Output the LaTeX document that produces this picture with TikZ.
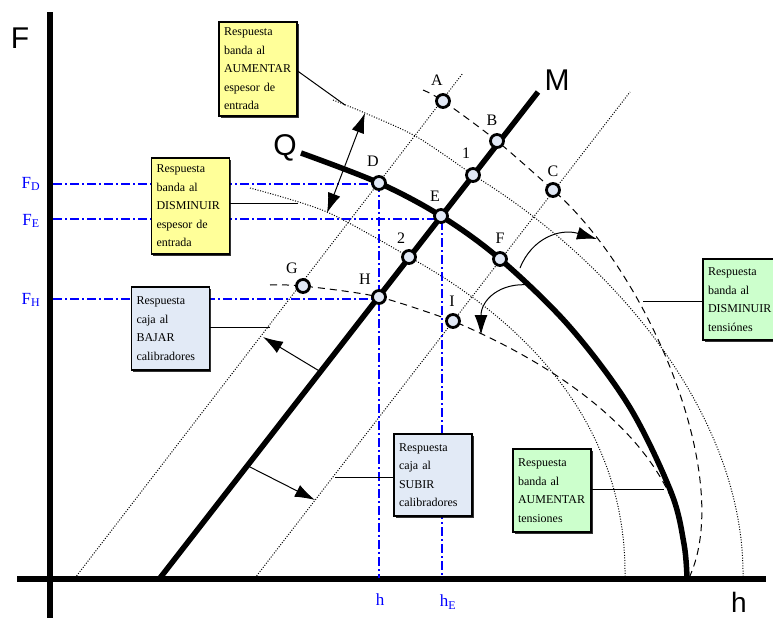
\documentclass[tikz,border=0pt]{standalone}
\usepackage{fontspec}
\setmainfont{Liberation Serif}
\setsansfont{Liberation Sans}
\usetikzlibrary{arrows.meta,shadows}
\definecolor{ptfill}{RGB}{225,232,245}
\definecolor{yel}{RGB}{255,255,153}
\definecolor{grn}{RGB}{204,255,204}
\definecolor{lbl}{RGB}{226,234,246}
\definecolor{dblue}{RGB}{0,0,255}
\begin{document}
\begin{tikzpicture}[x=1pt,y=-1pt,
  pt/.style={circle,draw=black,line width=2.8pt,fill=ptfill,minimum size=13pt,inner sep=0pt},
  plab/.style={font=\fontsize{16}{16}\selectfont},
  big/.style={font=\sffamily\fontsize{30}{30}\selectfont},
  axlab/.style={text=dblue,font=\fontsize{17}{17}\selectfont},
  box/.style={draw=black,line width=1.2pt,align=left,text width=68pt,inner xsep=5pt,inner ysep=0pt,font=\fontsize{12}{18.5}\selectfont,
    drop shadow={shadow xshift=1.5pt,shadow yshift=-1.5pt,opacity=0.8,fill=black}},
  bl/.style={draw=dblue,line width=1.3pt,dash pattern=on 9pt off 3pt on 2pt off 3pt},
  dl/.style={dash pattern=on 7pt off 5pt,line width=1pt},
  dt/.style={dash pattern=on 1pt off 1.6pt,line width=1pt},
  heavy/.style={line width=5.5pt},
  axis/.style={line width=6.5pt},
  tip/.style={-{Latex[length=20pt,width=13pt]},line width=1pt},
  dtip/.style={{Latex[length=20pt,width=13pt]}-{Latex[length=20pt,width=13pt]},line width=1pt},
  lead/.style={line width=1pt}
]
\useasboundingbox (0,0) rectangle (773,621);
\clip (0,0) rectangle (773,621);

% axes
\draw[axis] (50,12) -- (50,618);
\draw[axis] (17,579) -- (766,579);
\node[big,anchor=base] (Flab) at (20,48) {F};
\node[big,anchor=base,font=\sffamily\fontsize{28}{28}\selectfont,inner sep=1pt] (hlab) at (739,612) {h};

% point positions
\coordinate (A) at (443,101);
\coordinate (B) at (497,141);
\coordinate (C) at (553,190);
\coordinate (p1) at (473,175);
\coordinate (D) at (379,183);
\coordinate (E) at (441,216);
\coordinate (F) at (500,259);
\coordinate (p2) at (409,257);
\coordinate (G) at (303,286);
\coordinate (H) at (379,297);
\coordinate (I) at (453,321);

% straight dotted lines
\draw[dt] (75,578) -- (463,73);
\draw[dt] (255,578) -- (630,92);

% dotted curves (espesor)
\draw[dt] plot[smooth] coordinates {(333,100) (365,113) (417,137) (p1)} .. controls (620,265) and (745,420) .. (743,578);
\draw[dt] plot[smooth] coordinates {(250,188) (327,212) (p2)} .. controls (520,318) and (627,420) .. (625,578);

% dashed curves
\draw[dl] plot[smooth] coordinates {(423,90) (A) (B) (C)} .. controls (650,275) and (735,480) .. (689,578);
\draw[dl] plot[smooth] coordinates {(270,285) (G) (H) (I)} .. controls (580,375) and (690,460) .. (687,575);

% heavy lines
\coordinate (m0) at (160,578);
\coordinate (m1) at (538,92);
\draw[heavy] (m0) -- (m1);
\draw[heavy] plot[smooth,tension=0.55] coordinates {(301,153) (D) (E) (F) (569,326) (629,406) (671,492) (684,544) (687,578)};
\node[big] (Mlab) at (557,80) {M};
\node[big] (Qlab) at (285,148) {Q};

% blue reference lines
\coordinate (fd) at (53,184);
\coordinate (fe) at (53,219);
\coordinate (fh) at (53,299);
\coordinate (xd) at (379,578);
\coordinate (xe) at (442,578);
\draw[bl] (fd) -- (D |- fd);
\draw[bl] (D) -- (xd);
\draw[bl] (fe) -- (xe |- fe) -- (xe);
\draw[bl] (fh) -- (H |- fh);
\node[axlab] (lFD) at (31,184) {F\textsubscript{D}};
\node[axlab] (lFE) at (31,221) {F\textsubscript{E}};
\node[axlab] (lFH) at (31,300) {F\textsubscript{H}};
\node[axlab] (lh) at (380,600) {h};
\node[axlab] (lhE) at (448,602) {h\textsubscript{E}};

% point circles
\foreach \n in {A,B,C,p1,D,E,F,p2,G,H,I} \node[pt] (c\n) at (\n) {};

% point labels
\node[plab] (tA) at (437,80) {A};
\node[plab] (tB) at (492,120) {B};
\node[plab] (tC) at (553,171) {C};
\node[plab] (t1) at (466,153) {1};
\node[plab] (tD) at (373,161) {D};
\node[plab] (tE) at (435,196) {E};
\node[plab] (tF) at (500,238) {F};
\node[plab] (t2) at (401,238) {2};
\node[plab] (tG) at (292,268) {G};
\node[plab] (tH) at (365,279) {H};
\node[plab] (tI) at (452,301) {I};

% arrows
\coordinate (da) at (365,113);
\coordinate (db) at (327,213);
\draw[dtip] (da) -- (db);
\coordinate (ba0) at (321,372);
\coordinate (ba1) at (263,337);
\draw[tip] (ba0) -- (ba1);
\coordinate (sa0) at (248,466);
\coordinate (sa1) at (315,500);
\draw[tip] (sa0) -- (sa1);
\coordinate (ca0) at (520,268);
\coordinate (ca1) at (597,239);
\draw[tip] (ca0) .. controls (532,238) and (560,228) .. (ca1);
\coordinate (cb0) at (530,285);
\coordinate (cb1) at (481,335);
\draw[tip] (cb0) .. controls (500,282) and (481,300) .. (cb1);

% boxes
\node[box,fill=yel,minimum height=94pt] (b1) at (258,69) {Respuesta\\banda al\\AUMENTAR\\espesor de\\entrada};
\node[box,fill=yel,minimum height=96pt] (b2) at (190.5,206) {Respuesta\\banda al\\DISMINUIR\\espesor de\\entrada};
\node[box,fill=lbl,minimum height=83pt] (b3) at (170.5,328.5) {Respuesta\\caja al\\BAJAR\\calibradores};
\node[box,fill=lbl,minimum height=82pt] (b4) at (433,475) {Respuesta\\caja al\\SUBIR\\calibradores};
\node[box,fill=grn,minimum height=83pt] (b5) at (552,490.5) {Respuesta\\banda al\\AUMENTAR\\tensiones};
\node[box,fill=grn,minimum height=81pt] (b6) at (742,299.5) {Respuesta\\banda al\\DISMINUIR\\tensiónes};

% leaders
\coordinate (e1) at (345,105);
\coordinate (e2) at (298,203);
\coordinate (e3) at (270,327);
\coordinate (e4) at (335,477);
\coordinate (e5) at (664,489);
\coordinate (e6) at (643,301);
\draw[lead] ([yshift=-2pt]b1.east) -- (e1);
\draw[lead] (b2.east |- e2) -- (e2);
\draw[lead] (b3.east |- e3) -- (e3);
\draw[lead] (b4.west |- e4) -- (e4);
\draw[lead] (b5.east |- e5) -- (e5);
\draw[lead] (b6.west |- e6) -- (e6);
\end{tikzpicture}
\end{document}
